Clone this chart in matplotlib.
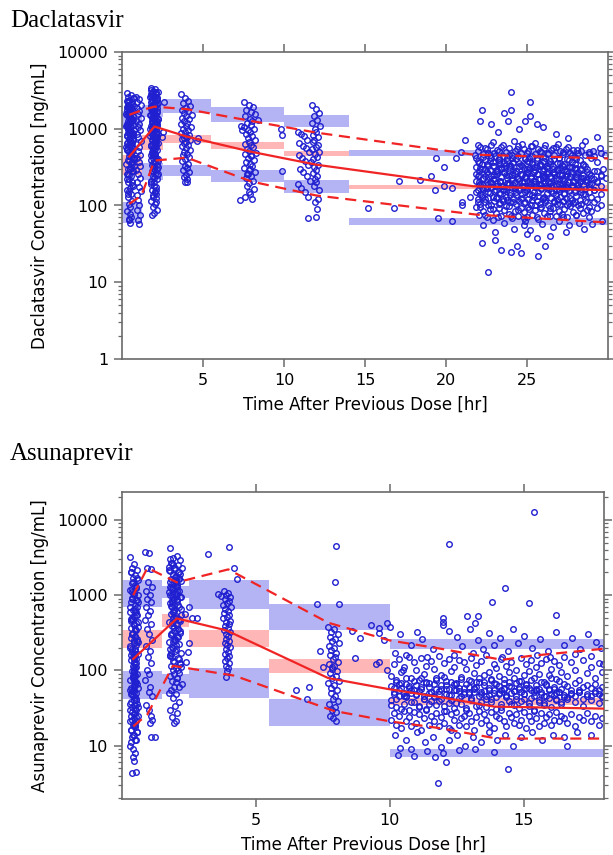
import matplotlib
matplotlib.use("Agg")
import matplotlib.pyplot as plt
from matplotlib.ticker import FixedLocator, LogLocator, NullFormatter, FuncFormatter

# ================= Daclatasvir (top panel) =================
dcv_edges = [0, 1.25, 2.5, 5.5, 10, 14, 30]
dcv_hi_box = [(1000, 1700), (1440, 2040), (1620, 2450), (1230, 1940), (1065, 1510), (435, 535)]
dcv_mid_box = [(250, 450), (535, 835), (660, 835), (550, 675), (435, 515), (162, 186)]
dcv_lo_box = [(60, 110), (218, 360), (245, 340), (200, 293), (144, 218), (56, 68)]

dcv_med_t = [0.45, 2.0, 4.0, 8.0, 12.0, 21.7, 30]
dcv_med_c = [435, 1070, 790, 500, 340, 178, 158]
dcv_p95_t = [0.45, 1.3, 2.0, 4.0, 8.0, 12.0, 21.7, 30]
dcv_p95_c = [1520, 1770, 1940, 1800, 1260, 890, 460, 410]
dcv_p05_t = [0.45, 1.2, 2.0, 4.0, 8.0, 12.0, 21.9, 30]
dcv_p05_c = [105, 135, 385, 420, 205, 135, 76, 60]

# observations at ~0.5 h (two samples per time)
dcv_a_t = [0.28, 0.55, 0.36, 0.68, 0.44, 0.30, 0.62, 0.50, 0.40, 0.72,
           0.33, 0.58, 0.46, 0.65, 0.38, 0.53, 0.27, 0.70, 0.48, 0.42,
           0.60, 0.35, 0.52, 0.45, 0.66, 0.31, 0.57, 0.41, 0.74, 0.49,
           0.37, 0.63, 0.29, 0.54, 0.43, 0.69, 0.34, 0.59, 0.47, 0.39,
           0.56, 0.32, 0.64, 0.51, 0.44, 0.71, 0.36, 0.61, 0.26, 0.53,
           0.40, 0.67, 0.30, 0.58, 0.46, 0.35, 0.62, 0.49, 0.42, 0.55,
           0.38, 0.60, 0.45, 0.52, 0.33, 0.48, 0.57, 0.41, 0.50, 0.44]
dcv_a_c = [2900, 2750, 2600, 2500, 2400, 2300, 2200, 2100, 2050, 1950,
           1900, 1850, 1780, 1700, 1650, 1600, 1540, 1480, 1420, 1380,
           1320, 1270, 1220, 1170, 1120, 1080, 1040, 1000, 960, 920,
           880, 850, 810, 780, 740, 710, 680, 650, 620, 590,
           560, 530, 500, 470, 445, 420, 395, 370, 345, 320,
           300, 280, 260, 240, 220, 200, 185, 170, 155, 140,
           128, 116, 105, 95, 86, 78, 70, 64, 60, 66]
dcv_a_c2 = [1500, 900, 2200, 400, 1200, 650, 1800, 300, 1000, 2500,
            550, 1400, 250, 850, 1900, 450, 1100, 180, 700, 1600,
            350, 2000, 950, 500, 1300, 220, 780, 1700, 420, 1050,
            2300, 600, 160, 1250, 380, 880, 1550, 280, 720, 1950,
            480, 1150, 200, 820, 1450, 330, 990, 2100, 580, 1350,
            140, 760, 1750, 430, 920, 260, 1280, 620, 1850, 360,
            1080, 520, 1650, 300, 840, 1220, 470, 1900, 680, 1000]
# observations at ~1 h
dcv_b_t = [0.88, 1.02, 0.95, 1.15, 0.91, 1.08, 0.99, 1.20, 0.86, 1.05,
           0.97, 1.12, 0.93, 1.01, 1.17, 0.89, 1.06, 0.96, 1.10, 0.92,
           1.03, 1.14, 0.87, 0.99, 1.09, 0.94, 1.04, 1.18, 0.90, 1.00,
           1.07, 0.95, 1.13, 0.98, 1.02]
dcv_b_c = [2600, 2450, 2250, 2050, 1850, 1700, 1550, 1400, 1280, 1160,
           1050, 950, 860, 780, 700, 630, 570, 510, 460, 410,
           365, 325, 290, 255, 225, 200, 175, 155, 135, 118,
           102, 88, 75, 64, 57]
# observations at ~2 h (two samples per time)
dcv_c_t = [1.78, 2.05, 1.92, 2.20, 1.85, 2.12, 1.98, 1.74, 2.16, 1.88,
           2.02, 1.81, 2.25, 1.95, 2.08, 1.76, 1.90, 2.14, 2.00, 1.84,
           2.18, 1.93, 2.06, 1.79, 2.10, 1.87, 2.22, 1.97, 1.83, 2.04,
           1.91, 2.15, 1.77, 2.01, 1.89, 2.11, 1.96, 2.19, 1.82, 2.07,
           1.94, 1.75, 2.13, 1.86, 2.03, 1.99, 2.21, 1.80, 2.09, 1.90,
           2.17, 1.85, 2.00, 1.93, 2.12, 1.78, 2.06, 1.88, 2.24, 1.96,
           1.83, 2.02, 1.91, 2.15, 1.97, 1.76, 2.08, 1.87, 2.01, 1.94,
           2.11, 1.80, 2.05, 1.89, 2.18, 1.99, 1.84, 2.10, 1.92, 2.03]
dcv_c_c = [3400, 3300, 3150, 3000, 2900, 2800, 2700, 2600, 2500, 2420,
           2340, 2260, 2180, 2100, 2030, 1960, 1900, 1840, 1780, 1720,
           1660, 1600, 1550, 1500, 1450, 1400, 1350, 1300, 1260, 1220,
           1180, 1140, 1100, 1060, 1020, 980, 950, 920, 890, 860,
           830, 800, 770, 740, 710, 680, 650, 620, 590, 560,
           530, 500, 470, 440, 415, 390, 365, 340, 320, 300,
           280, 260, 240, 222, 205, 190, 175, 160, 148, 136,
           125, 115, 105, 96, 88, 80, 75, 110, 130, 150]
dcv_c_c2 = [1800, 700, 2600, 400, 1200, 3000, 550, 1500, 250, 950,
            2200, 460, 1350, 180, 800, 2800, 620, 1700, 330, 1050,
            2400, 500, 1250, 210, 880, 1950, 380, 1600, 720, 2900,
            280, 1100, 2000, 440, 1450, 160, 760, 2500, 590, 1300,
            360, 1000, 2100, 480, 1550, 230, 850, 3200, 650, 1400,
            300, 920, 1850, 420, 1150, 2700, 540, 1750, 260, 980,
            2300, 640, 1650, 340, 1080, 200, 780, 2050, 470, 1380,
            140, 870, 2600, 560, 1250, 310, 1700, 700, 1900, 1100]
# observations at ~4 h
dcv_d_t = [3.62, 3.88, 4.10, 3.75, 4.22, 3.95, 3.68, 4.05, 3.82, 4.30,
           3.92, 3.71, 4.15, 3.85, 4.02, 3.64, 3.98, 4.25, 3.79, 4.08,
           3.90, 3.66, 4.12, 3.87, 4.00, 3.73, 4.18, 3.94, 3.81, 4.06,
           3.69, 3.96, 4.20, 3.84, 4.03, 3.77, 4.13, 3.91, 3.70, 4.09,
           3.86, 4.01, 3.74, 4.16, 3.93, 3.80, 4.04, 3.89, 3.99, 3.83]
dcv_d_c = [2800, 2500, 2300, 2150, 2000, 1880, 1780, 1690, 1600, 1520,
           1450, 1380, 1320, 1260, 1200, 1150, 1100, 1050, 1000, 960,
           920, 880, 840, 800, 770, 740, 710, 680, 650, 620,
           590, 560, 530, 500, 475, 450, 425, 400, 375, 350,
           330, 310, 290, 270, 250, 235, 220, 205, 200, 760]
# observations at ~8 h
dcv_e_t = [7.55, 7.82, 8.10, 7.68, 7.95, 8.22, 7.60, 7.88, 8.05, 7.74,
           7.99, 7.52, 8.15, 7.80, 7.92, 7.65, 8.02, 7.77, 8.18, 7.86,
           7.58, 7.94, 8.08, 7.71, 7.84, 8.25, 7.62, 7.97, 7.79, 8.12,
           7.67, 7.90, 8.00, 7.56, 7.83, 8.20, 7.73, 7.96, 7.64, 8.06,
           7.87, 7.70, 8.14, 7.81, 7.93, 7.59, 8.03, 7.76, 7.89, 7.98]
dcv_e_c = [2200, 2050, 1900, 1780, 1660, 1550, 1450, 1360, 1280, 1200,
           1130, 1060, 1000, 950, 900, 850, 800, 760, 720, 680,
           640, 610, 580, 550, 520, 490, 465, 440, 415, 390,
           370, 350, 330, 310, 290, 270, 255, 240, 225, 210,
           195, 180, 165, 150, 140, 130, 120, 260, 300, 450]
# observations at ~12 h
dcv_f_t = [11.75, 11.95, 12.15, 11.85, 12.05, 11.70, 12.20, 11.90, 12.00, 11.80,
           12.10, 11.88, 11.78, 12.08, 11.98, 11.72, 12.18, 11.92, 12.02, 11.82,
           11.65, 12.12, 11.86, 11.96, 11.76, 12.06, 11.90, 12.00, 11.84, 12.14,
           10.85, 11.05, 11.25, 11.45, 10.95, 11.15, 11.35, 11.55, 10.90, 11.10,
           11.30, 11.50, 11.00, 11.20, 11.40, 11.60, 10.88, 11.08, 11.28, 11.48,
           11.50, 12.00, 12.02, 11.94, 12.10]
dcv_f_c = [2050, 1800, 1600, 1450, 1300, 1180, 1080, 990, 910, 840,
           780, 720, 670, 620, 580, 540, 500, 465, 430, 400,
           370, 340, 315, 290, 265, 240, 220, 200, 180, 160,
           900, 850, 800, 720, 650, 600, 560, 500, 460, 420,
           380, 340, 300, 270, 240, 210, 190, 170, 150, 130,
           68, 70, 90, 110, 120]
# stray observations between sampling times
dcv_misc_t = [2.60, 2.50, 2.45, 4.60, 4.70, 7.35, 7.30, 9.80, 9.85, 9.90, 8.40, 7.40,
              15.2, 16.8, 17.1, 18.4, 19.1, 19.4, 19.9, 19.9, 19.3, 20.4, 21.0, 21.0]
dcv_misc_c = [2240, 900, 780, 700, 760, 1070, 117, 1000, 820, 285, 1300, 950,
              92, 92, 211, 215, 240, 410, 315, 180, 160, 170, 110, 100]

# trough samples (22-30 h): tails
dcv_g_t = [24.0, 25.2, 22.2, 24.0, 23.6, 25.2, 22.1, 23.8, 24.9, 22.8, 29.3, 21.2, 20.9, 25.6, 26.0,
           24.5, 23.2, 26.8, 27.5, 28.6, 22.0, 22.4, 22.9, 23.3, 23.5, 23.9, 24.2, 24.4, 24.7, 25.0,
           25.3, 25.5, 25.8, 26.1, 26.3, 26.6, 26.9, 27.2, 27.5, 27.8, 28.1, 28.4, 28.8, 29.1, 29.5,
           29.8, 23.0, 24.1, 25.1, 26.0, 27.0, 28.0, 22.6, 21.8, 20.6,
           22.2, 22.6, 23.4, 24.0, 24.4, 24.6, 25.7, 26.1, 25.6, 26.4, 28.5, 23.0, 22.3, 19.5, 20.4,
           23.6, 24.2, 24.8, 25.2, 25.9, 26.6, 27.0, 27.6, 28.2, 29.0, 29.6, 23.0, 25.0, 27.4, 24.9,
           22.4, 23.2, 24.0, 24.8, 25.6, 26.4, 27.2, 28.0, 28.8, 21.5, 29.9, 29.7]
dcv_g_c = [3000, 2250, 1770, 1750, 1600, 1450, 1280, 1250, 1250, 1150, 780, 720, 500, 1150, 1050,
           980, 900, 850, 760, 700, 620, 560, 680, 520, 610, 450, 700, 540, 630, 480,
           590, 660, 520, 610, 470, 560, 640, 500, 580, 450, 530, 610, 470, 520, 560,
           460, 440, 420, 410, 430, 415, 405, 480, 450, 420,
           32, 13.5, 26, 25, 30, 24, 22, 30, 38, 40, 50, 45, 55, 68, 62,
           60, 50, 55, 48, 58, 52, 62, 55, 60, 58, 62, 35, 42, 45, 62,
           75, 70, 72, 68, 70, 72, 70, 75, 70, 130, 230, 300]
# trough samples: dense core, layers sharing the sampling times
dcv_core_t = [21.83, 21.95, 22.04, 22.12, 22.23, 22.31, 22.42, 22.50, 22.61, 22.69,
              22.78, 22.88, 22.97, 23.06, 23.14, 23.25, 23.33, 23.41, 23.52, 23.60,
              23.71, 23.79, 23.88, 23.97, 24.08, 24.16, 24.25, 24.34, 24.43, 24.52,
              24.61, 24.70, 24.79, 24.88, 24.97, 25.06, 25.15, 25.24, 25.33, 25.42,
              25.51, 25.60, 25.69, 25.78, 25.87, 25.96, 26.05, 26.14, 26.23, 26.32,
              26.41, 26.50, 26.59, 26.68, 26.77, 26.86, 26.95, 27.04, 27.13, 27.22,
              27.31, 27.40, 27.49, 27.58, 27.67, 27.76, 27.85, 27.94, 28.03, 28.14,
              28.25, 28.36, 28.47, 28.58, 28.70, 28.83, 28.96, 29.12, 29.30, 29.55]
dcv_core_c1 = [420, 510, 360, 580, 300, 470, 390, 540, 330, 450,
               610, 370, 490, 280, 530, 410, 350, 570, 440, 310,
               500, 380, 560, 340, 460, 290, 520, 400, 600, 360,
               480, 330, 550, 420, 300, 510, 370, 590, 440, 320,
               470, 390, 540, 350, 500, 280, 560, 410, 330, 490,
               380, 530, 300, 450, 580, 360, 420, 510, 340, 470,
               290, 550, 400, 320, 490, 370, 530, 430, 310, 480,
               390, 520, 350, 460, 300, 500, 410, 440, 370, 480]
dcv_core_c2 = [210, 160, 250, 140, 190, 230, 170, 270, 150, 200,
               240, 130, 220, 180, 260, 145, 205, 235, 165, 275,
               155, 195, 245, 135, 215, 185, 265, 150, 225, 170,
               255, 140, 200, 230, 160, 270, 190, 245, 135, 210,
               175, 260, 150, 220, 185, 240, 130, 205, 255, 165,
               195, 230, 145, 270, 180, 215, 155, 250, 170, 225,
               140, 190, 260, 160, 235, 175, 210, 150, 245, 185,
               200, 165, 230, 140, 215, 175, 190, 160, 205, 180]
dcv_core_c3 = [95, 120, 75, 105, 130, 85, 110, 70, 125, 90,
               100, 65, 115, 80, 128, 92, 108, 72, 122, 88,
               98, 118, 78, 112, 68, 126, 86, 104, 74, 116,
               94, 124, 82, 110, 70, 120, 90, 102, 76, 128,
               88, 114, 66, 106, 96, 122, 80, 118, 72, 100,
               84, 126, 92, 110, 74, 120, 86, 104, 78, 115,
               90, 125, 70, 108, 98, 118, 82, 112, 76, 100,
               94, 105, 80, 115, 88, 96, 85, 110, 92, 100]
dcv_core_c4 = [320, 240, 280, 190, 350, 220, 300, 170, 260, 380,
               200, 330, 250, 160, 290, 370, 210, 310, 180, 270,
               340, 230, 190, 300, 250, 360, 170, 280, 220, 330,
               260, 200, 310, 240, 380, 180, 290, 230, 350, 270,
               210, 320, 260, 190, 340, 230, 300, 180, 270, 360,
               240, 200, 330, 260, 160, 290, 220, 310, 250, 190,
               350, 240, 280, 200, 320, 260, 180, 300, 230, 270,
               210, 290, 250, 330, 200, 260, 230, 280, 210, 250]
dcv_core_c5 = [260, 380, 200, 310, 170, 430, 240, 350, 190, 290,
               410, 220, 330, 180, 270, 390, 210, 300, 160, 360,
               250, 420, 190, 320, 230, 370, 170, 280, 440, 210,
               340, 250, 180, 400, 270, 200, 310, 230, 360, 190,
               290, 420, 220, 330, 170, 260, 380, 240, 310, 200,
               350, 180, 270, 400, 230, 300, 190, 360, 250, 330,
               210, 280, 170, 390, 240, 320, 200, 350, 260, 190,
               300, 230, 340, 210, 270, 190, 250, 220, 280, 240]
dcv_core_c6 = [150, 110, 185, 95, 135, 165, 120, 205, 100, 145,
               175, 90, 155, 125, 195, 105, 140, 180, 115, 160,
               130, 190, 98, 150, 170, 112, 200, 138, 88, 158,
               122, 182, 108, 148, 168, 96, 142, 188, 118, 152,
               102, 178, 132, 92, 162, 126, 198, 110, 146, 172,
               94, 156, 186, 116, 136, 104, 166, 128, 192, 114,
               144, 176, 100, 154, 124, 184, 108, 160, 134, 170,
               118, 150, 140, 164, 112, 148, 130, 158, 120, 142]

# ================= Asunaprevir (bottom panel) =================
asv_edges = [0, 1.5, 2.5, 5.5, 10, 18]
asv_hi_box = [(690, 1580), (930, 1310), (660, 1580), (340, 760), (194, 263)]
asv_mid_box = [(200, 340), (380, 560), (205, 340), (93, 142), (35, 43)]
asv_lo_box = [(42, 98), (48, 89), (43, 106), (18, 41.6), (7.1, 9.1)]

asv_med_t = [0.42, 2.05, 3.9, 7.7, 10.0, 11.9, 13.9, 18.0]
asv_med_c = [142, 490, 340, 79, 56, 44, 33, 31]
asv_p95_t = [0.42, 0.95, 2.05, 3.97, 7.7, 10.0, 11.9, 14.2, 15.2, 18.0]
asv_p95_c = [1000, 2300, 1480, 2200, 430, 250, 194, 138, 155, 194]
asv_p05_t = [0.42, 0.95, 1.9, 4.2, 7.9, 10.0, 11.9, 14.0, 18.0]
asv_p05_c = [18, 26, 115, 85, 29, 21, 17, 12.4, 12.4]

asv_a_t = [0.30, 0.45, 0.38, 0.55, 0.33, 0.50, 0.42, 0.60, 0.36, 0.48,
           0.53, 0.31, 0.44, 0.58, 0.39, 0.51, 0.34, 0.47, 0.56, 0.41,
           0.29, 0.52, 0.43, 0.37, 0.59, 0.46, 0.32, 0.54, 0.40, 0.49,
           0.35, 0.57, 0.44, 0.30, 0.50, 0.38, 0.61, 0.45, 0.33, 0.53,
           0.42, 0.48, 0.36, 0.55, 0.40, 0.31, 0.51, 0.46, 0.58, 0.39,
           0.34, 0.49, 0.43, 0.56, 0.37, 0.52, 0.47, 0.32, 0.44, 0.54,
           0.41, 0.50, 0.35, 0.57, 0.45, 0.39, 0.53, 0.30, 0.48, 0.42,
           0.46, 0.38, 0.51, 0.44, 0.47, 0.43, 0.49, 0.45, 0.48, 0.46]
asv_a_c = [3200, 2600, 2300, 2150, 2000, 1850, 1700, 1580, 1460, 1350,
           1250, 1160, 1080, 1000, 930, 860, 800, 740, 690, 640,
           590, 550, 510, 470, 435, 400, 370, 340, 315, 290,
           268, 248, 228, 210, 194, 178, 164, 150, 138, 127,
           116, 107, 98, 90, 82, 75, 69, 63, 58, 53,
           48, 44, 40, 36, 33, 30, 27, 25, 23, 21,
           19, 17.5, 16, 15, 14, 13, 12, 10, 8, 7,
           6.2, 4.3, 4.5, 110, 160, 240, 85, 55, 35, 20]
asv_a_c2 = [200, 35, 900, 15, 450, 70, 1500, 25, 300, 120,
            50, 700, 18, 240, 1100, 40, 160, 12, 550, 80,
            30, 1300, 95, 22, 380, 60, 2000, 140, 45, 650,
            16, 260, 1000, 55, 180, 28, 800, 100, 38, 420,
            14, 340, 1200, 65, 150, 21, 600, 90, 33, 500,
            11, 280, 75, 1700, 48, 220, 19, 480, 130, 42,
            9, 360, 58, 850, 26, 190, 110, 36, 620, 85,
            52, 300, 24, 410, 66, 170, 31, 250, 88, 140]
asv_b_t = [0.85, 1.00, 0.92, 1.08, 0.96, 1.12, 0.88, 1.03, 0.95, 1.10,
           0.90, 1.05, 0.98, 0.86, 1.07, 0.94, 1.01, 1.13, 0.89, 1.04,
           0.97, 1.09, 0.93, 1.02, 0.87, 1.06, 0.99, 1.11, 0.91, 1.00,
           1.08, 1.12, 1.05, 1.10, 1.25]
asv_b_c = [3700, 3600, 2300, 2200, 1500, 1300, 1150, 1000, 900, 800,
           700, 620, 540, 470, 410, 350, 300, 250, 210, 180,
           150, 125, 100, 90, 75, 60, 52, 45, 35, 30,
           25, 22, 20, 13, 13]
asv_c_t = [1.80, 2.05, 1.92, 2.18, 1.86, 2.10, 1.97, 1.75, 2.14, 1.89,
           2.01, 1.83, 2.22, 1.94, 2.07, 1.78, 1.91, 2.12, 1.99, 1.85,
           2.16, 1.93, 2.04, 1.81, 2.09, 1.88, 2.20, 1.96, 1.84, 2.03,
           1.90, 2.13, 1.77, 2.00, 1.87, 2.10, 1.95, 2.17, 1.82, 2.06,
           1.93, 1.76, 2.11, 1.86, 2.02, 1.98, 2.19, 1.79, 2.08, 1.90,
           2.15, 1.84, 2.01, 1.92, 2.11, 1.80, 2.05, 1.88, 2.23, 1.95,
           1.83, 2.02, 1.91, 2.14, 1.97, 1.78, 2.07, 1.87, 2.00, 1.94]
asv_c_c = [4200, 3300, 3100, 2900, 2700, 2500, 2300, 2150, 2000, 1880,
           1760, 1650, 1550, 1460, 1370, 1290, 1210, 1140, 1070, 1000,
           940, 880, 830, 780, 730, 690, 650, 610, 570, 535,
           500, 470, 440, 410, 385, 360, 335, 315, 295, 275,
           255, 238, 222, 207, 193, 180, 168, 156, 145, 135,
           125, 116, 108, 100, 92, 85, 78, 72, 66, 60,
           54, 48, 43, 38, 34, 30, 27, 24, 21, 20]
asv_c_c2 = [1500, 400, 2500, 120, 800, 2000, 250, 1100, 60, 600,
            1800, 300, 950, 90, 1300, 3000, 200, 700, 1600, 150,
            450, 2200, 80, 1000, 350, 1400, 110, 650, 2700, 220,
            900, 1700, 50, 500, 1200, 280, 750, 1900, 170, 1050,
            380, 2400, 140, 850, 1450, 260, 550, 2100, 100, 950,
            330, 1250, 70, 600, 1650, 190, 1150, 420, 2300, 130,
            720, 1350, 240, 480, 1750, 160, 880, 310, 1550, 520]
asv_d_t = [3.80, 3.95, 3.88, 4.03, 3.84, 3.99, 3.91, 3.77, 4.06, 3.86,
           3.97, 3.82, 4.01, 3.93, 3.79, 4.04, 3.89, 3.98, 3.85, 3.94,
           3.81, 4.02, 3.90, 3.96, 3.87, 4.00, 3.83, 3.92, 4.05, 3.88,
           3.95, 3.86, 3.99, 3.91, 3.84, 4.01, 3.89, 3.97, 3.93, 3.90]
asv_d_c = [1150, 1080, 1010, 950, 890, 840, 790, 740, 700, 660,
           620, 585, 550, 520, 490, 460, 435, 410, 385, 362,
           340, 320, 300, 282, 265, 248, 232, 218, 204, 190,
           178, 166, 155, 144, 134, 124, 115, 106, 97, 82]
asv_e_t = [7.70, 7.90, 7.80, 8.05, 7.75, 7.95, 7.85, 8.10, 7.72, 7.92,
           7.82, 8.00, 7.78, 7.97, 7.88, 8.08, 7.74, 7.93, 7.83, 8.02,
           7.76, 7.98, 7.86, 8.12, 7.71, 7.91, 7.81, 8.04, 7.79, 7.96,
           7.87, 8.06, 7.73, 7.94, 7.84, 8.01, 7.77, 7.89, 7.99, 7.85]
asv_e_c = [380, 350, 325, 300, 280, 262, 245, 228, 212, 198,
           185, 172, 160, 150, 140, 130, 121, 113, 105, 98,
           91, 85, 79, 73, 68, 63, 58, 54, 50, 46,
           42, 39, 36, 33, 30, 28, 25, 23, 21, 110]
asv_misc_t = [4.00, 4.30, 4.20, 3.60, 3.70, 3.20, 2.50, 2.60, 2.80, 2.50, 2.45, 2.40, 2.35,
              8.00, 7.95, 7.30, 8.10, 9.30, 9.60, 9.90, 8.60, 7.40, 6.90, 8.70, 8.90, 9.50,
              9.60, 7.50, 7.00, 6.50]
asv_misc_c = [4300, 1620, 2300, 1050, 980, 3500, 690, 490, 490, 230, 175, 130, 560,
              4500, 1480, 760, 760, 400, 370, 430, 330, 180, 42, 146, 270, 120,
              310, 110, 60, 55]

# 10-18 h: tails and upper part of the cloud
asv_g_t = [15.4, 12.2, 14.3, 13.8, 15.2, 16.2, 12.0, 12.9, 13.3, 12.0, 12.0, 13.2, 11.8, 14.4, 12.1,
           11.7, 10.3, 10.9, 16.6,
           10.0, 10.4, 10.8, 11.2, 11.6, 12.2, 12.5, 12.7, 13.0, 13.3, 13.5, 13.7, 13.9, 14.1, 14.4,
           14.6, 14.8, 15.0, 15.3, 15.6, 15.9, 16.2, 16.5, 16.8, 17.1, 17.4, 17.7, 17.9, 10.2, 10.6,
           11.0, 11.4, 12.4, 13.1, 14.2, 15.5, 16.0, 16.9, 17.5, 9.8,
           10.2, 10.6, 11.0, 11.3, 11.6, 11.9, 12.2, 12.5, 12.8, 13.1, 13.4, 13.7, 14.0, 14.3, 14.6,
           14.9, 15.3, 15.7, 16.1, 16.5, 17.0, 17.5, 10.8, 11.4, 12.0, 12.6, 13.2, 13.9, 10.4, 12.3,
           9.6, 9.9, 10.5, 17.95]
asv_g_c = [12800, 4800, 1230, 800, 780, 550, 500, 530, 530, 440, 400, 420, 3.2, 4.9, 6.1,
           7.0, 7.6, 7.2, 10,
           380, 300, 220, 260, 190, 330, 280, 210, 360, 250, 190, 310, 220, 270, 180,
           350, 230, 290, 200, 260, 180, 320, 220, 270, 190, 300, 240, 200, 170, 160,
           320, 150, 160, 170, 150, 160, 150, 165, 155, 250,
           14, 12, 15, 11, 13, 9.5, 12, 14, 10, 13, 11, 15, 12, 14, 10,
           13, 15, 12, 14, 13, 15, 14, 9, 8.5, 8, 8.8, 9, 8.2, 9.3, 16,
           130, 100, 100, 120]
# 10-18 h: dense core, layers sharing the sampling times
asv_core_t = [10.05, 10.15, 10.24, 10.33, 10.43, 10.52, 10.61, 10.71, 10.80, 10.90,
              10.99, 11.08, 11.18, 11.27, 11.36, 11.46, 11.55, 11.64, 11.74, 11.83,
              11.92, 12.02, 12.11, 12.20, 12.30, 12.39, 12.48, 12.58, 12.67, 12.76,
              12.86, 12.95, 13.04, 13.14, 13.23, 13.32, 13.42, 13.51, 13.60, 13.70,
              13.79, 13.88, 13.98, 14.07, 14.16, 14.26, 14.35, 14.44, 14.54, 14.63,
              14.72, 14.82, 14.91, 15.00, 15.10, 15.19, 15.28, 15.38, 15.47, 15.56,
              15.66, 15.75, 15.84, 15.94, 16.03, 16.12, 16.22, 16.31, 16.40, 16.50,
              16.62, 16.78, 16.93, 17.08, 17.22, 17.37, 17.51, 17.66, 17.80, 17.93]
asv_core_c1 = [85, 120, 70, 140, 95, 110, 65, 150, 80, 130,
               100, 75, 145, 90, 115, 68, 135, 105, 78, 155,
               88, 125, 72, 142, 98, 112, 66, 138, 82, 128,
               104, 74, 148, 92, 118, 70, 132, 86, 160, 96,
               76, 122, 108, 84, 140, 68, 114, 94, 130, 80,
               102, 72, 146, 88, 120, 98, 136, 78, 110, 90,
               124, 70, 142, 86, 104, 132, 76, 118, 96, 150,
               84, 128, 100, 74, 138, 92, 112, 80, 126, 95]
asv_core_c2 = [40, 52, 33, 46, 58, 36, 44, 30, 55, 38,
               48, 34, 57, 42, 31, 50, 39, 45, 35, 53,
               41, 29, 56, 37, 47, 32, 54, 43, 36, 49,
               30, 51, 40, 58, 34, 45, 38, 53, 33, 47,
               42, 55, 31, 48, 36, 57, 44, 39, 50, 35,
               46, 32, 52, 41, 59, 37, 43, 30, 54, 38,
               49, 35, 45, 56, 33, 47, 40, 51, 36, 44,
               42, 48, 38, 52, 34, 46, 40, 50, 37, 45]
asv_core_c3 = [22, 27, 19, 25, 17, 29, 21, 24, 18, 28,
               20, 26, 16, 23, 30, 19, 25, 21, 27, 18,
               24, 20, 29, 17, 26, 22, 28, 19, 23, 25,
               18, 27, 21, 16, 24, 29, 20, 26, 22, 19,
               28, 17, 25, 23, 30, 21, 18, 27, 24, 20,
               26, 19, 22, 28, 17, 25, 21, 29, 23, 18,
               27, 20, 24, 26, 19, 22, 28, 21, 25, 23,
               20, 26, 18, 24, 22, 27, 21, 25, 19, 23]
asv_core_c4 = [62, 48, 75, 55, 68, 45, 80, 58, 50, 72,
               64, 53, 78, 46, 70, 60, 52, 66, 74, 49,
               57, 82, 63, 47, 71, 54, 67, 59, 76, 51,
               65, 48, 73, 56, 61, 79, 52, 69, 45, 58,
               74, 50, 66, 62, 55, 77, 47, 70, 60, 53,
               68, 56, 72, 49, 64, 58, 75, 51, 63, 57,
               70, 46, 66, 54, 78, 60, 50, 72, 57, 65,
               62, 55, 68, 52, 60, 64, 58, 66, 54, 61]
asv_core_c5 = [35, 58, 42, 66, 31, 50, 45, 62, 38, 54,
               47, 33, 60, 41, 68, 36, 52, 44, 57, 39,
               63, 34, 49, 56, 40, 65, 37, 53, 46, 59,
               32, 61, 43, 51, 70, 35, 48, 64, 41, 55,
               38, 67, 44, 50, 33, 58, 46, 62, 36, 53,
               42, 60, 39, 49, 66, 34, 55, 45, 57, 40,
               51, 37, 63, 43, 48, 56, 41, 52, 38, 47,
               44, 50, 46, 54, 42, 49, 45, 53, 48, 44]

BLUE_BOX = "#b4b4f4"
PINK_BOX = "#ffb6b6"
DOT = "#2020d0"
RED = "#f02424"
FRAME = "#6a6a6a"


def log_label(v, pos):
    return "%d" % v


def panel(ax, edges, hi, mid, lo, obs, med_t, med_c, p95_t, p95_c, p05_t, p05_c,
          xlim, ylim, xticks, yticks, ylabel):
    for i in range(len(edges) - 1):
        x = [edges[i], edges[i + 1]]
        ax.fill_between(x, hi[i][0], hi[i][1], color=BLUE_BOX, lw=0, zorder=1)
        ax.fill_between(x, mid[i][0], mid[i][1], color=PINK_BOX, lw=0, zorder=1)
        ax.fill_between(x, lo[i][0], lo[i][1], color=BLUE_BOX, lw=0, zorder=1)

    for t, c in obs:
        ax.plot(t, c, "o", mfc="none", mec=DOT, ms=4.0, mew=1.0, zorder=2)

    ax.plot(med_t, med_c, "-", color=RED, lw=1.6, zorder=3)
    ax.plot(p95_t, p95_c, "--", color=RED, lw=1.6, dashes=(5, 3), zorder=3)
    ax.plot(p05_t, p05_c, "--", color=RED, lw=1.6, dashes=(5, 3), zorder=3)

    ax.set_yscale("log")
    ax.set_xlim(*xlim)
    ax.set_ylim(*ylim)
    ax.xaxis.set_major_locator(FixedLocator(xticks))
    ax.yaxis.set_major_locator(FixedLocator(yticks))
    ax.yaxis.set_major_formatter(FuncFormatter(log_label))
    ax.yaxis.set_minor_locator(LogLocator(base=10, subs=range(2, 10), numticks=20))
    ax.yaxis.set_minor_formatter(NullFormatter())

    for s in ax.spines.values():
        s.set_color(FRAME)
        s.set_linewidth(1.2)
    ax.tick_params(axis="both", which="major", direction="out", length=6, width=1.1,
                   color=FRAME, labelsize=11.5, pad=4, top=True, right=True)
    ax.tick_params(axis="y", which="minor", direction="out", length=3, width=0.9,
                   color=FRAME, right=True)
    ax.set_ylabel(ylabel, fontsize=12, labelpad=6)
    ax.set_xlabel("Time After Previous Dose [hr]", fontsize=12, labelpad=6)


fig = plt.figure(figsize=(6.13, 8.55), dpi=100)
ax1 = fig.add_axes([122 / 613, 1 - 359 / 855, 486 / 613, 307 / 855])
ax2 = fig.add_axes([122 / 613, 1 - 799 / 855, 482 / 613, 307 / 855])

dcv_obs = [(dcv_a_t, dcv_a_c), (dcv_a_t, dcv_a_c2), (dcv_b_t, dcv_b_c), (dcv_c_t, dcv_c_c),
           (dcv_c_t, dcv_c_c2), (dcv_d_t, dcv_d_c), (dcv_e_t, dcv_e_c), (dcv_f_t, dcv_f_c),
           (dcv_misc_t, dcv_misc_c), (dcv_g_t, dcv_g_c),
           (dcv_core_t, dcv_core_c1), (dcv_core_t, dcv_core_c2), (dcv_core_t, dcv_core_c3),
           (dcv_core_t, dcv_core_c4), (dcv_core_t, dcv_core_c5), (dcv_core_t, dcv_core_c6)]
asv_obs = [(asv_a_t, asv_a_c), (asv_a_t, asv_a_c2), (asv_b_t, asv_b_c), (asv_c_t, asv_c_c),
           (asv_c_t, asv_c_c2), (asv_d_t, asv_d_c), (asv_e_t, asv_e_c),
           (asv_misc_t, asv_misc_c), (asv_g_t, asv_g_c),
           (asv_core_t, asv_core_c1), (asv_core_t, asv_core_c2), (asv_core_t, asv_core_c3),
           (asv_core_t, asv_core_c4), (asv_core_t, asv_core_c5)]

panel(ax1, dcv_edges, dcv_hi_box, dcv_mid_box, dcv_lo_box, dcv_obs,
      dcv_med_t, dcv_med_c, dcv_p95_t, dcv_p95_c, dcv_p05_t, dcv_p05_c,
      (0, 30), (1, 10000), [5, 10, 15, 20, 25], [1, 10, 100, 1000, 10000],
      "Daclatasvir Concentration [ng/mL]")
panel(ax2, asv_edges, asv_hi_box, asv_mid_box, asv_lo_box, asv_obs,
      asv_med_t, asv_med_c, asv_p95_t, asv_p95_c, asv_p05_t, asv_p05_c,
      (0, 18), (1.95, 23500), [5, 10, 15], [10, 100, 1000, 10000],
      "Asunaprevir Concentration [ng/mL]")

fig.text(10 / 613, 1 - 27 / 855, "Daclatasvir", family="Liberation Serif", fontsize=18,
         ha="left", va="baseline")
fig.text(10 / 613, 1 - 460 / 855, "Asunaprevir", family="Liberation Serif", fontsize=18,
         ha="left", va="baseline")

fig.savefig("out.png", dpi=100)
